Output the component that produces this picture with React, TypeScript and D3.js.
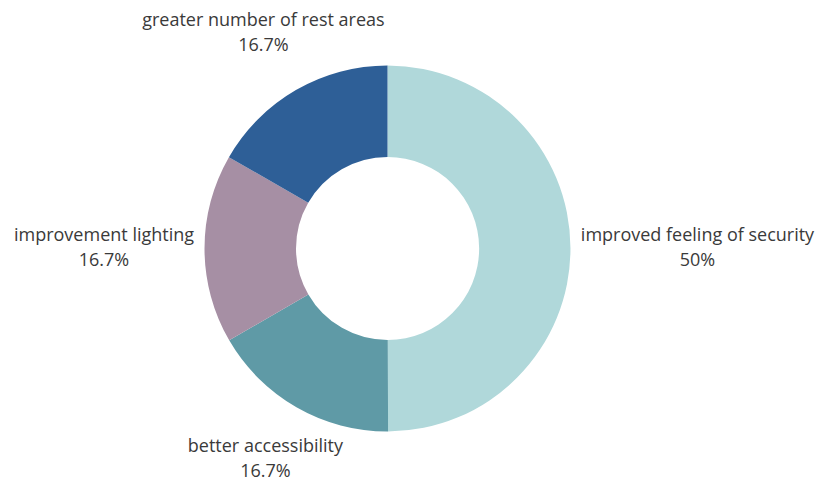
import React from "react";
import * as d3 from "d3";

const categories = [
  "improved feeling of security",
  "better accessibility",
  "improvement lighting",
  "greater number of rest areas",
];
const values = [50, 16.7, 16.7, 16.7];
const valueLabels = ["50%", "16.7%", "16.7%", "16.7%"];
const colors = ["#b0d8da", "#5f9aa6", "#a68fa4", "#2e5f97"];

const W = 824;
const H = 481;
const cx = 387.5;
const cy = 248.5;
const outerR = 183;
const innerR = 91.5;
const fontSize = 18;
const lineGap = 25;

// layout offsets of each label block's centre (first baseline) from the slice's outer mid point
const labelOffsets: [number, number][] = [
  [127, -7.5],
  [-31, 44.5],
  [-100.5, -7.5],
  [-32.5, -64],
];

export default function App() {
  const pie = d3
    .pie<number>()
    .sort(null)
    .value((d) => d);
  const arcs = pie(values);
  const arc = d3.arc<d3.PieArcDatum<number>>().innerRadius(innerR).outerRadius(outerR);

  return (
    <svg
      width={W}
      height={H}
      style={{ position: "absolute", left: 0, top: 0, background: "#fff" }}
    >
      <g transform={`translate(${cx},${cy})`}>
        {arcs.map((a, i) => (
          <path key={i} d={arc(a) || ""} fill={colors[i]} />
        ))}
        {arcs.map((a, i) => {
          const mid = (a.startAngle + a.endAngle) / 2;
          const px = Math.sin(mid) * outerR + labelOffsets[i][0];
          const py = -Math.cos(mid) * outerR + labelOffsets[i][1];
          return (
            <text
              key={"t" + i}
              x={px}
              y={py}
              textAnchor="middle"
              fontFamily="'Open Sans', sans-serif"
              fontSize={fontSize}
              fill="#3a3a3a"
            >
              <tspan x={px}>{categories[i]}</tspan>
              <tspan x={px} dy={lineGap}>
                {valueLabels[i]}
              </tspan>
            </text>
          );
        })}
      </g>
    </svg>
  );
}
